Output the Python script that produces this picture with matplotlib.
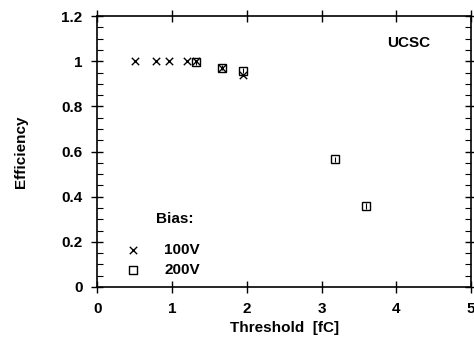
import matplotlib.pyplot as plt
from matplotlib.ticker import MultipleLocator, FormatStrFormatter

plt.rcParams['font.family'] = ['Liberation Sans', 'DejaVu Sans']

# 100V bias points
x100 = [0.5, 0.78, 0.96, 1.2, 1.32, 1.67, 1.95]
y100 = [1.0, 1.0, 1.0, 1.0, 1.0, 0.97, 0.94]

# 200V bias points
x200 = [1.32, 1.67, 1.95, 3.18, 3.59]
y200 = [0.995, 0.972, 0.958, 0.566, 0.358]
err200 = [0.01, 0.01, 0.012, 0.012, 0.012]

fig = plt.figure(figsize=(4.74, 3.5), dpi=100)
ax = fig.add_axes([0.205, 0.18, 0.789, 0.774])

ax.scatter(x100, y100, marker='x', s=28, color='black', linewidths=1.0, zorder=3)
ax.errorbar(x200, y200, yerr=err200, fmt='s', ms=5.5, mfc='none', mec='black',
            mew=1.0, ecolor='black', elinewidth=0.8, capsize=0, zorder=3)

ax.set_xlim(0, 5)
ax.set_ylim(0, 1.2)
ax.xaxis.set_major_locator(MultipleLocator(1))
ax.yaxis.set_major_locator(MultipleLocator(0.2))
ax.yaxis.set_minor_locator(MultipleLocator(0.05))
ax.yaxis.set_major_formatter(FormatStrFormatter('%g'))

ax.tick_params(which='major', direction='inout', length=9, width=1.0,
               top=True, right=True, labelsize=11, pad=6)
ax.tick_params(which='minor', direction='in', length=4, width=0.8,
               left=True, right=True)
for lab in ax.get_xticklabels() + ax.get_yticklabels():
    lab.set_fontweight('bold')
for sp in ax.spines.values():
    sp.set_linewidth(1.2)

ax.set_xlabel('Threshold  [fC]', fontsize=11, fontweight='bold', labelpad=4)
ax.set_ylabel('Efficiency', fontsize=11, fontweight='bold', labelpad=24)

ax.text(4.16, 1.08, 'UCSC', fontsize=11, fontweight='bold', ha='center', va='center')
ax.text(0.78, 0.30, 'Bias:', fontsize=11, fontweight='bold', ha='left', va='center')
ax.scatter([0.48], [0.165], marker='x', s=28, color='black', linewidths=1.0)
ax.scatter([0.48], [0.076], marker='s', s=30, facecolor='none', edgecolor='black', linewidths=1.0)
ax.text(0.9, 0.165, '100V', fontsize=11, fontweight='bold', ha='left', va='center')
ax.text(0.9, 0.076, '200V', fontsize=11, fontweight='bold', ha='left', va='center')

fig.savefig('out.png', dpi=100)
